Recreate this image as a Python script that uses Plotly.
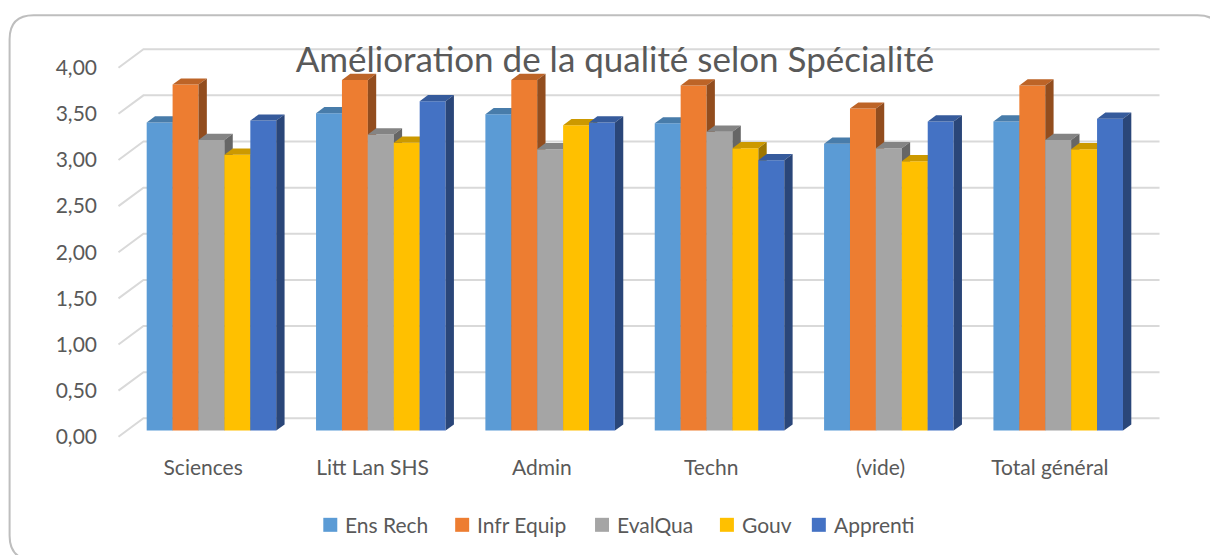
import plotly.graph_objects as go

# ---- data -------------------------------------------------------------
categories = ["Sciences", "Litt Lan SHS", "Admin", "Techn", "(vide)", "Total général"]
ens_rech   = [3.34, 3.44, 3.43, 3.33, 3.11, 3.35]
infr_equip = [3.75, 3.80, 3.80, 3.74, 3.49, 3.74]
eval_qua   = [3.15, 3.21, 3.05, 3.24, 3.06, 3.15]
gouv       = [2.99, 3.12, 3.31, 3.06, 2.92, 3.05]
apprenti   = [3.36, 3.57, 3.34, 2.93, 3.35, 3.38]
series_names = ["Ens Rech", "Infr Equip", "EvalQua", "Gouv", "Apprenti"]
y_ticks = [0.0, 0.5, 1.0, 1.5, 2.0, 2.5, 3.0, 3.5, 4.0]
title_text = "Amélioration de la qualité selon Spécialité"

series_values = [ens_rech, infr_equip, eval_qua, gouv, apprenti]
colors = ["#5B9BD5", "#ED7D31", "#A5A5A5", "#FFC000", "#4472C4"]

# ---- page geometry ------------------------------------------------------
W, H = 1210, 555
ML, MR, MT, MB = 109.5, 41.5, 40.3, 108.8
PW, PH = W - ML - MR, H - MT - MB

FONT = "Lato"
TXT = "#595959"
GRID = "#D9D9D9"

# oblique 3-D projection: depth of the floor in axis units
DEPTH_X = 0.1475   # category units
DEPTH_Y = 0.20     # value units
BAR_W = 0.153      # width of one bar (category units)
F0, F1 = 1 / 3, 2 / 3   # bars occupy the middle third of the depth

X_RANGE = [-0.55, 5.5 + DEPTH_X + 0.05]
Y_RANGE = [-0.1, 4.3]


def shade(hex_color, k):
    h = hex_color.lstrip("#")
    r, g, b = (int(h[i:i + 2], 16) for i in (0, 2, 4))
    return "#%02X%02X%02X" % (int(r * k), int(g * k), int(b * k))


def px_x(px):
    return (px - ML) / PW


def px_y(py):
    return (H - MB - py) / PH


fig = go.Figure()

# back wall gridlines with their diagonal on the side wall
gx, gy = [], []
for t in y_ticks:
    gx += [-0.5, -0.5 + DEPTH_X, 5.5 + DEPTH_X, None]
    gy += [t, t + DEPTH_Y, t + DEPTH_Y, None]
fig.add_trace(go.Scatter(x=gx, y=gy, mode="lines", line=dict(color=GRID, width=2),
                         hoverinfo="skip", showlegend=False))

# 3-D bars: front, top and right side faces, drawn left to right
n = len(series_values)
sx, sy = DEPTH_X * (F1 - F0), DEPTH_Y * (F1 - F0)
bx, by = DEPTH_X * F0, DEPTH_Y * F0
for s, (name, vals, col) in enumerate(zip(series_names, series_values, colors)):
    fx, fy, tx, ty, rx, ry = [], [], [], [], [], []
    for g, v in enumerate(vals):
        x0 = g + bx + (s - (n - 1) / 2) * BAR_W - BAR_W / 2
        x1 = x0 + BAR_W
        y0, y1 = by, v + by
        fx += [x0, x1, x1, x0, x0, None]
        fy += [y0, y0, y1, y1, y0, None]
        tx += [x0, x1, x1 + sx, x0 + sx, x0, None]
        ty += [y1, y1, y1 + sy, y1 + sy, y1, None]
        rx += [x1, x1 + sx, x1 + sx, x1, x1, None]
        ry += [y0, y0 + sy, y1 + sy, y1, y0, None]
    for xs, ys, c, hov in ((fx, fy, col, True), (tx, ty, shade(col, 0.80), False),
                           (rx, ry, shade(col, 0.62), False)):
        fig.add_trace(go.Scatter(
            x=xs, y=ys, mode="lines", fill="toself", fillcolor=c,
            line=dict(width=0, color=c), name=name, showlegend=False,
            hoverinfo="skip" if not hov else "name"))

# legend drawn as swatches + labels under the plot
legend_left = [323, 455, 595, 720, 812]
LEG_Y, SW = 525, 14
shapes, annotations = [], []
for name, col, lx in zip(series_names, colors, legend_left):
    shapes.append(dict(type="rect", xref="paper", yref="paper",
                       x0=px_x(lx), x1=px_x(lx + SW),
                       y0=px_y(LEG_Y + SW / 2), y1=px_y(LEG_Y - SW / 2),
                       fillcolor=col, line=dict(width=0)))
    annotations.append(dict(text=name, xref="paper", yref="paper",
                            x=px_x(lx + SW + 6), y=px_y(LEG_Y), xanchor="left", yanchor="middle",
                            showarrow=False, font=dict(family=FONT, size=21, color=TXT)))

# rounded chart border
L_, T_, R_, B_, r = 9, 15.5, 1222, 560, 24
pts = [("M", L_, T_ + r), ("Q", L_, T_), ("", L_ + r, T_), ("L", R_ - r, T_),
       ("Q", R_, T_), ("", R_, T_ + r), ("L", R_, B_ - r), ("Q", R_, B_), ("", R_ - r, B_),
       ("L", L_ + r, B_), ("Q", L_, B_), ("", L_, B_ - r)]
path = " ".join(f"{c}{px_x(x):.5f},{px_y(y):.5f}" if c else f"{px_x(x):.5f},{px_y(y):.5f}"
                for c, x, y in pts) + " Z"
shapes.append(dict(type="path", path=path, xref="paper", yref="paper", layer="below",
                   line=dict(color="#BEBEBE", width=2)))

fig.update_layout(
    width=W, height=H,
    margin=dict(l=ML, r=MR, t=MT, b=MB, pad=0),
    paper_bgcolor="white", plot_bgcolor="rgba(0,0,0,0)",
    separators=", ",
    showlegend=False,
    title=dict(text=title_text, x=615 / W, xref="container", xanchor="center",
               y=1 - 60 / H, yref="container", yanchor="middle",
               font=dict(family=FONT, size=35, color=TXT)),
    xaxis=dict(range=X_RANGE, showgrid=False, zeroline=False, showline=False,
               tickmode="array", tickvals=list(range(len(categories))), ticktext=categories,
               ticks="", ticklabelstandoff=7,
               tickfont=dict(family=FONT, size=21, color=TXT), fixedrange=True),
    yaxis=dict(range=Y_RANGE, showgrid=False, zeroline=False, showline=False,
               tickmode="array", tickvals=y_ticks, tickformat=".2f",
               ticks="", ticklabelstandoff=12,
               tickfont=dict(family=FONT, size=21, color=TXT), fixedrange=True),
    shapes=shapes, annotations=annotations,
)

fig.write_html("out.html")
